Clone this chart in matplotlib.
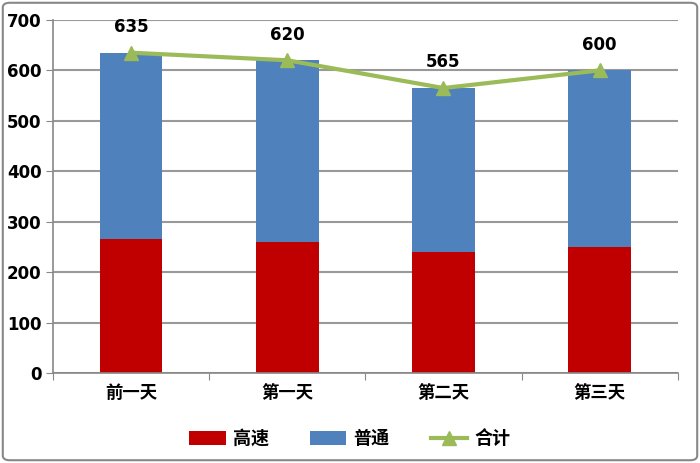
import matplotlib.pyplot as plt
from matplotlib.patches import FancyBboxPatch
import numpy as np

plt.rcParams['font.family'] = ['Noto Sans CJK SC', 'DejaVu Sans']

days = ['前一天', '第一天', '第二天', '第三天']
gaosu = [265, 260, 240, 250]
putong = [370, 360, 325, 350]
total = [635, 620, 565, 600]

fig = plt.figure(figsize=(7, 4.63), dpi=100)
ax = fig.add_axes([0.076, 0.194, 0.892, 0.763])

x = np.arange(len(days))
b1 = ax.bar(x, gaosu, width=0.4, color='#c00000', label='高速', zorder=2)
b2 = ax.bar(x, putong, width=0.4, bottom=gaosu, color='#4f81bd', label='普通', zorder=2)
ln, = ax.plot(x, total, color='#9bbb59', lw=3, marker='^', ms=10, label='合计', zorder=3)
for xi, t in zip(x, total):
    ax.text(xi, t + 33, str(t), ha='center', va='bottom', fontsize=12,
            fontweight='bold', family='DejaVu Sans')

ax.set_xlim(-0.5, 3.5)
ax.set_ylim(0, 700)
ax.set_yticks(range(0, 701, 100))
ax.set_xticks(np.arange(-0.5, 4, 1), minor=False)
ax.set_xticklabels([])
ax.set_xticks(x, minor=True)
ax.set_xticklabels(days, minor=True, fontsize=12.5, fontweight='bold')
ax.tick_params(axis='x', which='minor', length=0, pad=8)
ax.tick_params(axis='x', which='major', length=5, color='#888888')
ax.tick_params(axis='y', length=5, color='#888888', labelsize=12)
for lab in ax.get_yticklabels():
    lab.set_fontweight('bold')
    lab.set_family('DejaVu Sans')
ax.yaxis.grid(True, color='#999999', lw=1.5, zorder=0)
for s in ['top', 'right']:
    ax.spines[s].set_visible(False)
for s in ['left', 'bottom']:
    ax.spines[s].set_color('#888888')
    ax.spines[s].set_linewidth(1.2)

fig.legend([b1, b2, ln], ['高速', '普通', '合计'], loc='lower center',
           bbox_to_anchor=(0.5, -0.003), ncol=3, frameon=False,
           prop={'size': 13, 'weight': 'bold'}, handlelength=2.0, handleheight=0.8,
           handletextpad=0.4, columnspacing=2.3)

fig.patches.append(FancyBboxPatch((0.004, 0.006), 0.992, 0.988, boxstyle='round,pad=0,rounding_size=0.01',
                                  transform=fig.transFigure, fill=False, ec='#888888', lw=1.5))

fig.savefig('out.png', dpi=100)
